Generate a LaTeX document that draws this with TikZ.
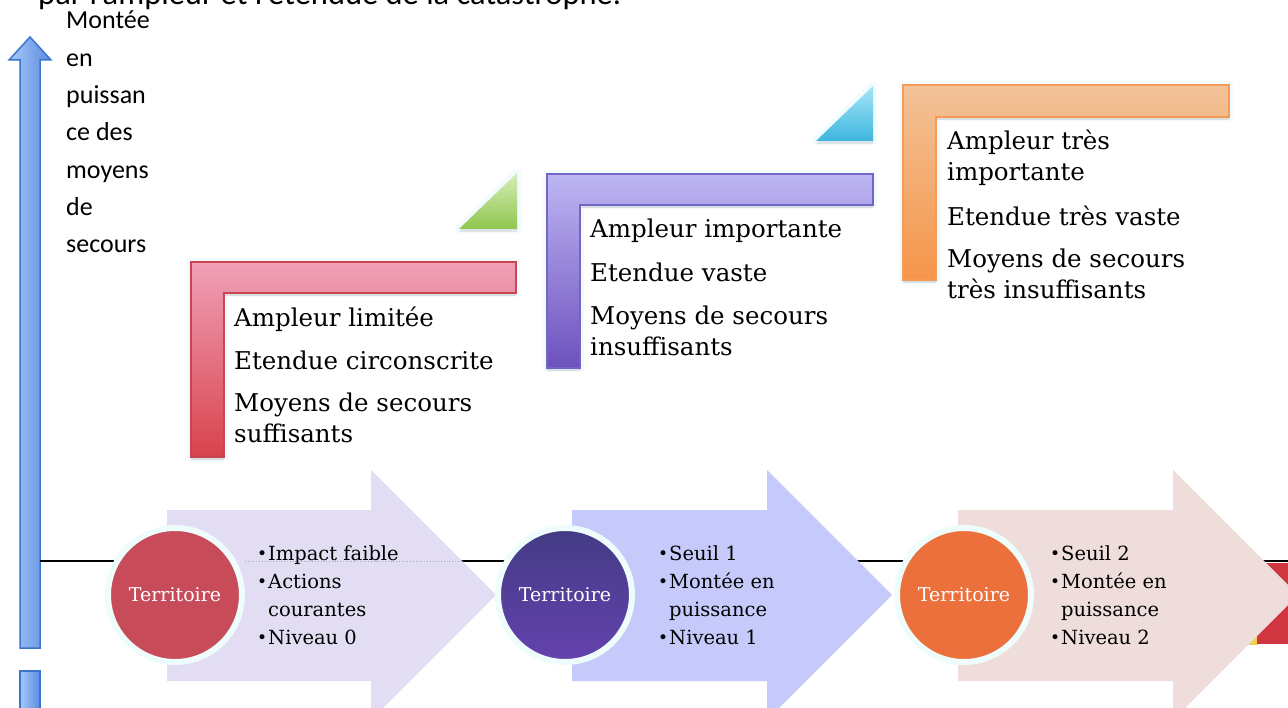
\documentclass[tikz,border=0pt]{standalone}
\usepackage{fontspec}
\setmainfont{Carlito}
\newfontfamily\cambr{DejaVu Serif}
\usetikzlibrary{shadows}
\definecolor{axisL}{HTML}{A8C8F8}
\definecolor{axisR}{HTML}{5A8CE0}
\definecolor{axisB}{HTML}{3A76CE}
\definecolor{redT}{HTML}{F0A0B8}
\definecolor{redB}{HTML}{D8434C}
\definecolor{redE}{HTML}{C9454F}
\definecolor{purT}{HTML}{BEB6F3}
\definecolor{purB}{HTML}{6C50BD}
\definecolor{purE}{HTML}{7464C8}
\definecolor{oraT}{HTML}{F3C298}
\definecolor{oraB}{HTML}{F5954A}
\definecolor{oraE}{HTML}{F69A58}
\definecolor{grnT}{HTML}{D7EEB8}
\definecolor{grnB}{HTML}{8FC64E}
\definecolor{cyaT}{HTML}{A6E6F8}
\definecolor{cyaB}{HTML}{3DB6DE}
\definecolor{arrA}{HTML}{E3DDF3}
\definecolor{arrB}{HTML}{C6CAFA}
\definecolor{arrC}{HTML}{EEDDDA}
\definecolor{cirA}{HTML}{C84B5A}
\definecolor{cirBT}{HTML}{433B84}
\definecolor{cirBB}{HTML}{6442AE}
\definecolor{cirC}{HTML}{EC703B}
\definecolor{ring}{HTML}{EFFCFC}
\definecolor{endred}{HTML}{D0363F}
\definecolor{endyel}{HTML}{F2D050}
\tikzset{
  glow/.style={preaction={draw=cyan!5, line width=8pt, line join=round}},
  lshape/.style={glow, drop shadow={opacity=0.22, shadow xshift=0pt, shadow yshift=-3pt}, line width=1.2pt},
  trishape/.style={glow, drop shadow={opacity=0.18, shadow xshift=0pt, shadow yshift=-3pt}},
  terr/.style={circle, minimum size=134pt, inner sep=0pt, draw=ring, line width=6pt,
     text=white, font=\cambr\fontsize{19}{22}\selectfont},
  ltext/.style={anchor=base west, inner sep=0pt, font=\cambr\fontsize{24.5}{31}\selectfont},
  btext/.style={anchor=base west, inner sep=0pt, font=\cambr\fontsize{19.5}{28}\selectfont},
  ytext/.style={anchor=base west, inner sep=0pt, font=\fontsize{26}{37.3}\selectfont}
}
\newcommand{\bul}{\makebox[11pt][l]{\fontsize{17}{17}\selectfont\raisebox{0.5pt}{•}}}
\begin{document}
\begin{tikzpicture}[x=1pt,y=-1pt]
\clip (0,0) rectangle (1288,708);
\fill[white] (0,0) rectangle (1288,708);

% title (cut at top, as in the reference)
\node[anchor=base west, inner sep=0pt, font=\fontsize{32.5}{36}\selectfont] (title) at (38,5) {par l’ampleur et l’étendue de la catastrophe.};

% vertical axis arrow
\shade[left color=axisL, right color=axisR, draw=axisB, line width=1.5pt, line join=miter]
  (20,648) -- (20,60) -- (9,60) -- (30,37) -- (51,60) -- (40,60) -- (40,648) -- cycle;
\shade[left color=axisL, right color=axisR, draw=axisB, line width=1.5pt]
  (20,671) -- (20,720) -- (40,720) -- (40,671) -- cycle;

\node[ytext] (ylab) at (66,29) {\begin{tabular}[t]{@{}l@{}}Montée\\ en\\ puissan\\ ce des\\ moyens\\ de\\ secours\end{tabular}};

% horizontal line
\coordinate (h0) at (40,561);
\coordinate (h1) at (1288,561);
\draw[black, line width=1.3pt] (h0) -- (h1);

% end red block at right
\fill[endyel] (1249,632) rectangle (1258,645);
\fill[endred] (1257,563) rectangle (1300,644);

% big arrows
\fill[arrA] (167,510) -- (371,510) -- (371,470) -- (496,595) -- (371,720) -- (371,681) -- (167,681) -- cycle;
\draw[gray!70, dotted, line width=0.8pt] (245,561) -- (463,561);
\fill[arrB] (572,510) -- (767,510) -- (767,470) -- (892,595) -- (767,720) -- (767,681) -- (572,681) -- cycle;
\fill[arrC] (958,510) -- (1173,510) -- (1173,470) -- (1298,595) -- (1173,720) -- (1173,681) -- (958,681) -- cycle;

% circles
\node[terr, fill=cirA] (c1) at (175,595) {Territoire};
\node[terr, top color=cirBT, bottom color=cirBB] (c2) at (565,595) {Territoire};
\node[terr, fill=cirC] (c3) at (964,595) {Territoire};

% bullet texts
\node[btext] (b1) at (257,560) {\begin{tabular}[t]{@{}l@{}l@{}}\bul&Impact faible\\ \bul&Actions\\ &courantes\\ \bul&Niveau 0\end{tabular}};
\node[btext] (b2) at (658,560) {\begin{tabular}[t]{@{}l@{}l@{}}\bul&Seuil 1\\ \bul&Montée en\\ &puissance\\ \bul&Niveau 1\end{tabular}};
\node[btext] (b3) at (1050,560) {\begin{tabular}[t]{@{}l@{}l@{}}\bul&Seuil 2\\ \bul&Montée en\\ &puissance\\ \bul&Niveau 2\end{tabular}};

% L shapes
\shade[lshape, top color=redT, bottom color=redB, draw=redE]
  (191,262) -- (516,262) -- (516,293) -- (224,293) -- (224,457) -- (191,457) -- cycle;
\shade[lshape, top color=purT, bottom color=purB, draw=purE]
  (547,174) -- (873,174) -- (873,205) -- (580,205) -- (580,368) -- (547,368) -- cycle;
\shade[lshape, top color=oraT, bottom color=oraB, draw=oraE]
  (903,85) -- (1229,85) -- (1229,117) -- (936,117) -- (936,280) -- (903,280) -- cycle;

% triangles
\shade[trishape, top color=grnT, bottom color=grnB] (459,229) -- (517,173) -- (517,229) -- cycle;
\shade[trishape, top color=cyaT, bottom color=cyaB] (816,141) -- (873,86) -- (873,141) -- cycle;

% L texts
\node[ltext] (t1) at (234,327) {\begin{tabular}[t]{@{}l@{}}Ampleur limitée\\[12pt] Etendue circonscrite\\[11pt] Moyens de secours\\ suffisants\end{tabular}};
\node[ltext] (t2) at (590,238) {\begin{tabular}[t]{@{}l@{}}Ampleur importante\\[13pt] Etendue vaste\\[12pt] Moyens de secours\\ insuffisants\end{tabular}};
\node[ltext] (t3) at (947,150) {\begin{tabular}[t]{@{}l@{}}Ampleur très\\ importante\\[14pt] Etendue très vaste\\[11pt] Moyens de secours\\ très insuffisants\end{tabular}};
\end{tikzpicture}
\end{document}
